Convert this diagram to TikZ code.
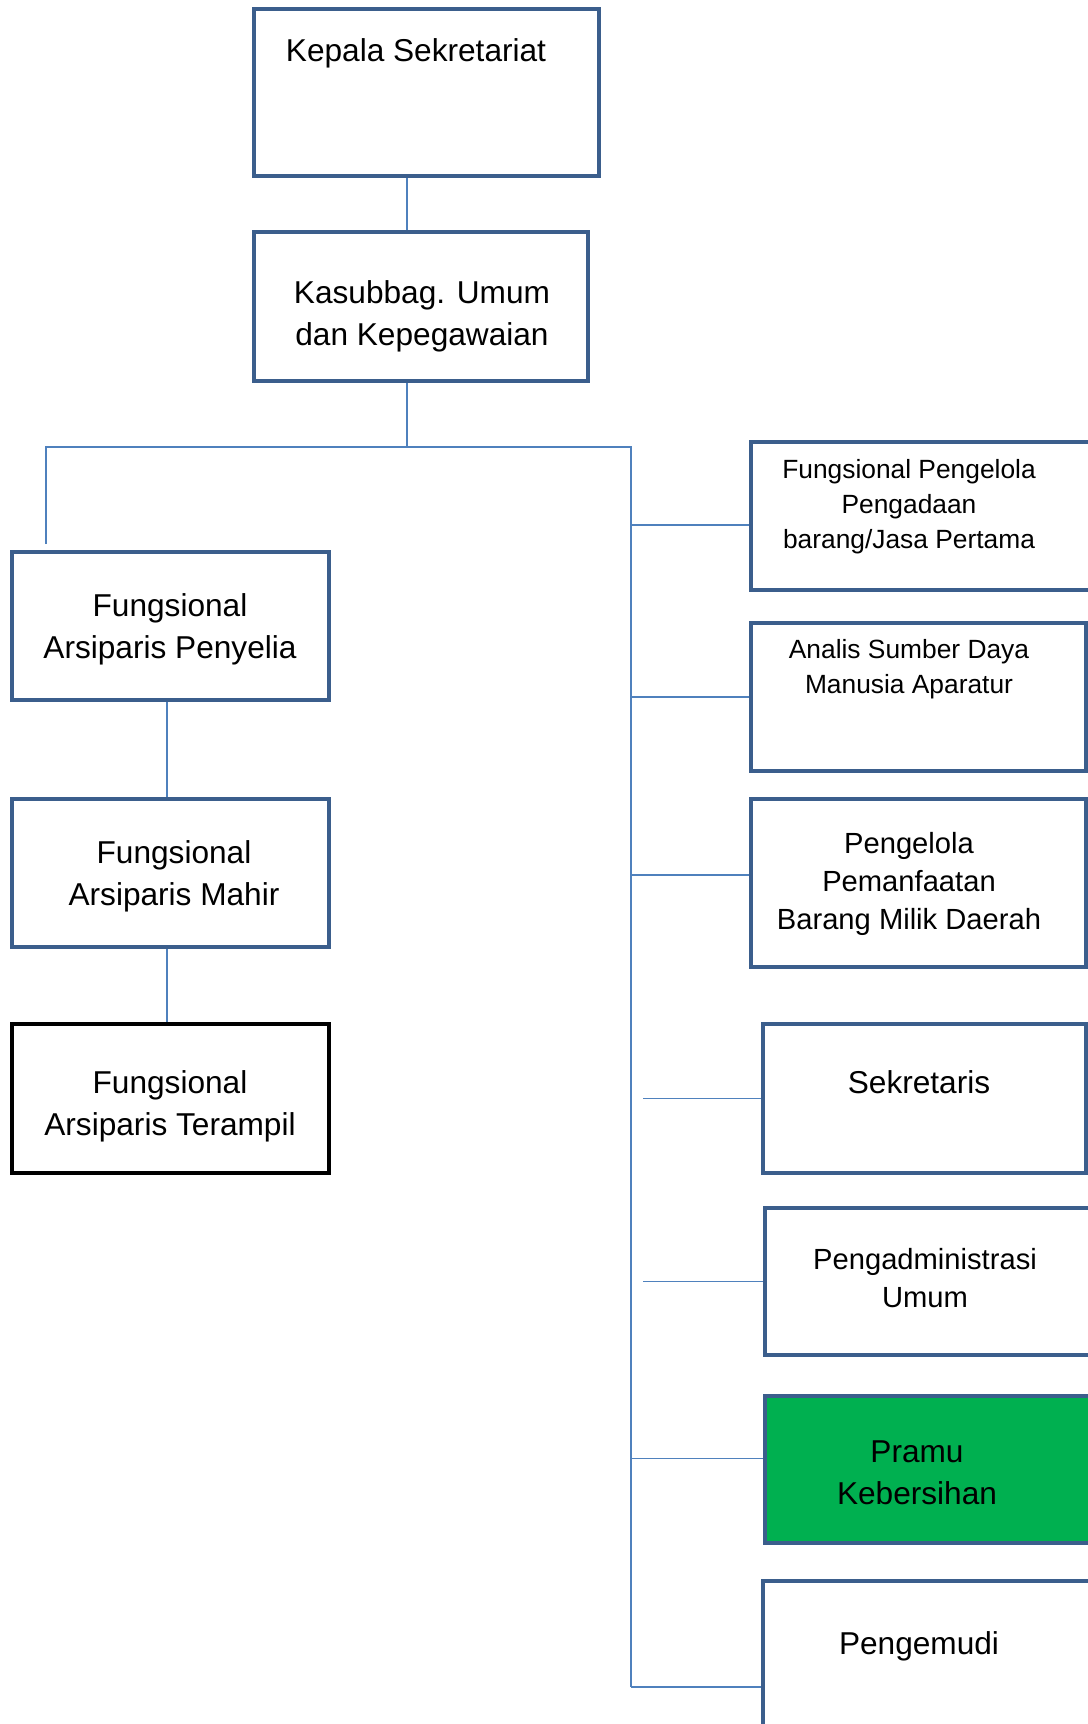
\documentclass[tikz,border=0pt]{standalone}
\usepackage{fontspec}
\setmainfont{Liberation Sans}
\usetikzlibrary{fit}
\definecolor{boxblue}{HTML}{3B5E8C}
\definecolor{linkblue}{HTML}{4F81BD}
\definecolor{pramugreen}{HTML}{00B050}

\begin{document}
\begin{tikzpicture}[x=0.02cm, y=-0.02cm,
  box/.style={draw=boxblue, line width=0.08cm, fill=white, inner sep=0pt},
  link/.style={draw=linkblue, line width=0.035cm},
  big/.style={align=center, inner sep=0pt, font=\fontsize{18pt}{23.8pt}\selectfont},
  mid/.style={align=center, inner sep=0pt, font=\fontsize{16.6pt}{21.8pt}\selectfont},
  small/.style={align=center, inner sep=0pt, font=\fontsize{15pt}{20pt}\selectfont}]
	\useasboundingbox (0,0) rectangle (1088,1724);
	\clip (0,0) rectangle (1088,1724);
	% Pimpinan
	\node[box, fit={(254,9) (599,176)}] (kepala) {};
	\node[big] (kepalaT) at (416,53) {Kepala Sekretariat};
	\node[box, fit={(254,232) (588,381)}] (kasubbag) {};
	\node[big] (kasubbagT) at (422,316) {Kasubbag. Umum\\dan Kepegawaian};
	% Arsiparis
	\node[box, fit={(12,552) (329,700)}] (penyelia) {};
	\node[big] (penyeliaT) at (170,629) {Fungsional\\Arsiparis Penyelia};
	\node[box, fit={(12,799) (329,947)}] (mahir) {};
	\node[big] (mahirT) at (174,876) {Fungsional\\Arsiparis Mahir};
	\node[box, draw=black, fit={(12,1024) (329,1173)}] (terampil) {};
	\node[big] (terampilT) at (170,1106) {Fungsional\\Arsiparis Terampil};
	% Pelaksana
	\node[box, fit={(751,442) (1100,590)}] (pengadaan) {};
	\node[small] (pengadaanT) at (909,507) {Fungsional Pengelola\\Pengadaan\\barang/Jasa Pertama};
	\node[box, fit={(751,623) (1086,771)}] (analis) {};
	\node[small] (analisT) at (909,669) {Analis Sumber Daya\\Manusia Aparatur};
	\node[box, fit={(751,799) (1086,967)}] (bmd) {};
	\node[mid] (bmdT) at (909,884) {Pengelola\\Pemanfaatan\\Barang Milik Daerah};
	\node[box, fit={(763,1024) (1086,1173)}] (sekretaris) {};
	\node[big] (sekretarisT) at (919,1082) {Sekretaris};
	\node[box, fit={(765,1208) (1100,1355)}] (pengadm) {};
	\node[mid] (pengadmT) at (925,1278) {Pengadministrasi\\Umum};
	\node[box, fill=pramugreen, fit={(765,1396) (1100,1543)}] (pramu) {};
	\node[big] (pramuT) at (917,1473) {Pramu\\Kebersihan};
	\node[box, fit={(763,1581) (1100,1760)}] (pengemudi) {};
	\node[big] (pengemudiT) at (919,1646) {Pengemudi};
	% Garis
	\coordinate (busL) at (46,447);
	\coordinate (busM) at (407,447);
	\coordinate (busR) at (631,447);
	\coordinate (busEnd) at (631,1687);
	\coordinate (penTop) at (46,544);
	\coordinate (arsX) at (167,0);
	\coordinate (stub) at (643,0);
	\coordinate (pengadaanIn) at ([yshift=-0.18cm]pengadaan.west);
	\coordinate (bmdIn) at ([yshift=0.16cm]bmd.west);
	\coordinate (pramuIn) at ([yshift=0.22cm]pramu.west);
	\draw[link] (kepala.south -| busM) -- (kasubbag.north -| busM);
	\draw[link] (kasubbag.south -| busM) -- (busM);
	\draw[link] (penTop) -- (busL) -- (busR) -- (busEnd);
	\draw[link] (penyelia.south -| arsX) -- (mahir.north -| arsX);
	\draw[link] (mahir.south -| arsX) -- (terampil.north -| arsX);
	\draw[link] (busR |- pengadaanIn) -- (pengadaanIn);
	\draw[link] (busR |- analis.west) -- (analis.west);
	\draw[link] (busR |- bmdIn) -- (bmdIn);
	\draw[link] (stub |- sekretaris.west) -- (sekretaris.west);
	\draw[link] (stub |- pengadm.west) -- (pengadm.west);
	\draw[link] (busR |- pramuIn) -- (pramuIn);
	\draw[link] (busEnd) -- (busEnd -| pengemudi.west);
\end{tikzpicture}
\end{document}
